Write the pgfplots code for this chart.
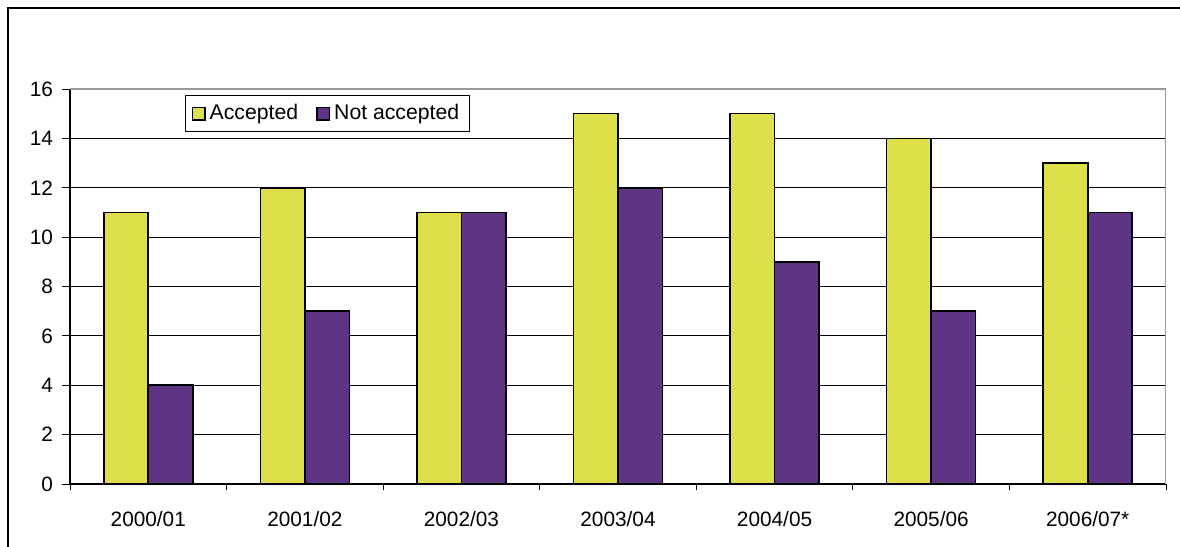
\documentclass[border=0pt]{standalone}
\usepackage{fontspec}
\setmainfont{Liberation Sans}
\usepackage{pgfplots}
\pgfplotsset{compat=1.18}
\definecolor{accY}{RGB}{221,224,74}
\definecolor{notP}{RGB}{94,52,132}
\begin{document}
\begin{tikzpicture}[x=1pt,y=1pt]
\path[use as bounding box] (0,0) rectangle (590,273.5);
\draw[line width=0.8pt] (4,0) -- (4,269.5) -- (590,269.5);
\begin{axis}[
  at={(35pt,31.5pt)}, anchor=south west,
  scale only axis, width=548pt, height=197.5pt,
  xmin=-0.5, xmax=6.5, ymin=0, ymax=16,
  ytick={0,2,...,16},
  xtick={0,...,6},
  xticklabels={2000/01,2001/02,2002/03,2003/04,2004/05,2005/06,2006/07*},
  minor xtick={-0.5,0.5,...,6.5},
  major x tick style={draw=none},
  minor x tick style={black, thin},
  y tick style={black, thin},
  tick align=outside,
  major tick length=4pt, minor tick length=3pt,
  axis x line*=bottom, axis y line*=left,
  axis line style={black, line width=0.6pt, -},
  ymajorgrids, grid style={black, line width=0.4pt},
  tick label style={font=\fontsize{10.4}{12}\selectfont},
  /pgf/number format/assume math mode=true,
  xticklabel style={yshift=-6pt},
  yticklabel style={xshift=-1pt},
  ybar, bar width=22.25pt,
  legend style={at={(rel axis cs:0.105,0.985)}, anchor=north west, draw=black, line width=0.5pt,
    legend columns=2, font=\fontsize{10.6}{12}\selectfont, inner xsep=3pt, inner ysep=2.5pt,
    /tikz/every even column/.append style={column sep=7pt}},
  legend image code/.code={\draw[#1, draw=black, line width=0.8pt] (0cm,-0.11cm) rectangle (0.22cm,0.11cm);},
]
\addplot[fill=accY, draw=black, line width=0.8pt, bar shift=-11.125pt] coordinates {(0,11) (1,12) (2,11) (3,15) (4,15) (5,14) (6,13)};
\addplot[fill=notP, draw=black, line width=0.8pt, bar shift=11.125pt] coordinates {(0,4) (1,7) (2,11) (3,12) (4,9) (5,7) (6,11)};
\legend{Accepted, Not accepted}
\draw[gray!80, line width=1pt] (rel axis cs:0,1) -- (rel axis cs:1,1) -- (rel axis cs:1,0);
\end{axis}
\end{tikzpicture}
\end{document}
